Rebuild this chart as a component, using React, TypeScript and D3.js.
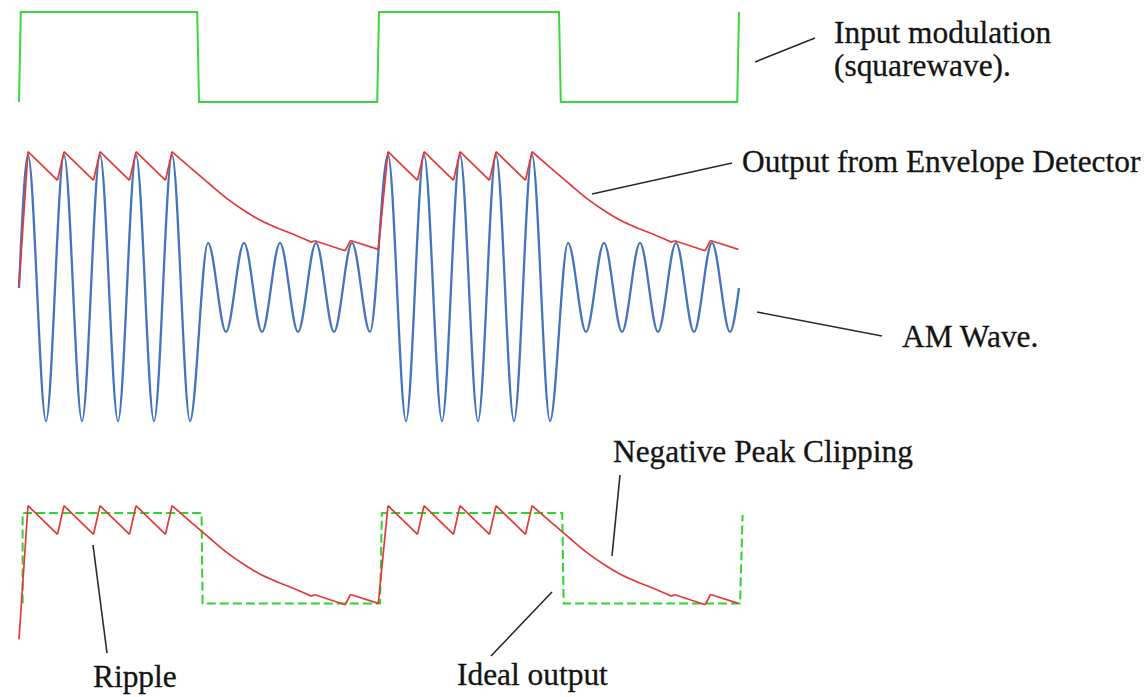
import { useEffect } from "react";
import * as d3 from "d3";

// time axis is in carrier cycles (20 cycles across the plot)

// input modulation square wave (0 = low, 1 = high)
const squareT = [0, 0.05, 4.95, 5.0, 9.95, 10.0, 15.0, 15.05, 19.95, 20.0];
const squareV = [0, 1, 1, 0, 0, 1, 1, 0, 0, 1];

// AM carrier, read at each peak / trough
const amT = [
  0, 0.25, 0.75, 1.25, 1.75, 2.25, 2.75, 3.25, 3.75, 4.25, 4.75,
  5.25, 5.75, 6.25, 6.75, 7.25, 7.75, 8.25, 8.75, 9.25, 9.75,
  10.25, 10.75, 11.25, 11.75, 12.25, 12.75, 13.25, 13.75, 14.25, 14.75,
  15.25, 15.75, 16.25, 16.75, 17.25, 17.75, 18.25, 18.75, 19.25, 19.75, 20,
];
const amV = [
  0, 1, -1, 1, -1, 1, -1, 1, -1, 1, -1,
  0.34, -0.33, 0.34, -0.33, 0.34, -0.33, 0.34, -0.33, 0.34, -0.33,
  1, -1, 1, -1, 1, -1, 1, -1, 1, -1,
  0.34, -0.33, 0.34, -0.33, 0.34, -0.33, 0.34, -0.33, 0.34, -0.33, 0,
];

// envelope detector output (capacitor voltage)
const envT = [
  0, 0.25, 1.07, 1.25, 2.07, 2.25, 3.07, 3.25, 4.07, 4.25,
  4.84, 5.3, 5.77, 6.23, 6.69, 7.16, 7.62, 8.12, 8.22, 9.06, 9.21, 9.98,
  10.25, 11.07, 11.25, 12.07, 12.25, 13.07, 13.25, 14.07, 14.25,
  14.84, 15.3, 15.77, 16.23, 16.69, 17.16, 17.62, 18.12, 18.22, 19.06, 19.21, 19.98,
];
const envV = [
  0.02, 1.025, 0.81, 1.025, 0.81, 1.025, 0.81, 1.025, 0.81, 1.025,
  0.887, 0.78, 0.674, 0.586, 0.511, 0.453, 0.404, 0.345, 0.355, 0.28, 0.357, 0.29,
  1.025, 0.81, 1.025, 0.81, 1.025, 0.81, 1.025, 0.81, 1.025,
  0.887, 0.78, 0.674, 0.586, 0.511, 0.453, 0.404, 0.345, 0.355, 0.28, 0.357, 0.29,
];

// ideal (delayed) output, dashed
const idealT = [0.1, 0.1, 5.07, 5.1, 10.03, 10.08, 15.09, 15.13, 20.03, 20.1];
const idealV = [0.29, 0.97, 0.97, 0.29, 0.29, 0.97, 0.97, 0.29, 0.29, 0.955];

const labels = {
  input: ["Input modulation", "(squarewave)."],
  envelope: "Output from Envelope Detector",
  am: "AM Wave.",
  clipping: "Negative Peak Clipping",
  ripple: "Ripple",
  ideal: "Ideal output",
};

const W = 1147;
const H = 697;
const FONT = '"Liberation Serif", "Times New Roman", Times, "DejaVu Serif", serif';
const INK = "#141414";

type P = [number, number];
const zip = (t: number[], v: number[]): P[] => t.map((d, i) => [d, v[i]]);

// split a series at its turning points so each rising / falling stretch is
// smoothed on its own and the detector's peaks stay sharp
function runs(pts: P[]): P[][] {
  const out: P[][] = [];
  let cur: P[] = [pts[0]];
  let dir = 0;
  for (let i = 1; i < pts.length; i++) {
    const d = Math.sign(pts[i][1] - pts[i - 1][1]);
    if (dir !== 0 && d !== dir) {
      out.push(cur);
      cur = [pts[i - 1]];
    }
    cur.push(pts[i]);
    dir = d;
  }
  out.push(cur);
  return out;
}

export default function App() {
  useEffect(() => {
    document.body.style.margin = "0";
  }, []);

  const x = d3.scaleLinear().domain([0, 20]).range([19, 739]);
  const ySq = d3.scaleLinear().domain([0, 1]).range([102, 12]);
  const yMid = d3.scaleLinear().domain([-1, 1]).range([421, 155]);
  const yBot = d3.scaleLinear().domain([-1, 1]).range([775, 509]);

  const lin = (y: d3.ScaleLinear<number, number>) =>
    d3.line<P>().x((d) => x(d[0])).y((d) => y(d[1]));

  const squarePath = lin(ySq)(zip(squareT, squareV)) ?? "";
  const amPath = lin(yMid).curve(d3.curveMonotoneX)(zip(amT, amV)) ?? "";
  const envPath = (y: d3.ScaleLinear<number, number>) =>
    runs(zip(envT, envV))
      .map((r) => lin(y).curve(d3.curveMonotoneX)(r) ?? "")
      .join("");
  const envMid = envPath(yMid);
  const envBot = envPath(yBot);
  const idealPath = lin(yBot)(zip(idealT, idealV)) ?? "";

  // leader lines from labels to curves
  const leaders: [number, number, number, number][] = [
    [755, 62, 815, 38],
    [592, 194, 732, 163],
    [757, 312, 882, 336],
    [620, 475, 612, 556],
    [93, 545, 107, 653],
    [552, 592, 491, 656],
  ];

  const txt = {
    fontSize: 31.4,
    fill: INK,
    stroke: INK,
    strokeWidth: 0.3,
    style: { fontFamily: FONT },
  };

  return (
    <svg width={W} height={H} style={{ display: "block", background: "#fff" }}>
      <path d={squarePath} fill="none" stroke="#3ad83a" strokeWidth={2} />
      <path d={amPath} fill="none" stroke="#4474be" strokeWidth={2.3} />
      <path d={envMid} fill="none" stroke="#e23a3a" strokeWidth={1.7} strokeLinejoin="round" />
      <path
        d={idealPath}
        fill="none"
        stroke="#2fd42f"
        strokeWidth={2}
        strokeDasharray="9 4"
      />
      <path d={envBot} fill="none" stroke="#e23a3a" strokeWidth={1.7} strokeLinejoin="round" />

      {leaders.map((l, i) => (
        <line
          key={i}
          x1={l[0]}
          y1={l[1]}
          x2={l[2]}
          y2={l[3]}
          stroke="#2a2a2a"
          strokeWidth={1.6}
        />
      ))}

      <text x={834} y={43} {...txt}>{labels.input[0]}</text>
      <text x={834} y={76} {...txt}>{labels.input[1]}</text>
      <text x={742} y={172} {...txt}>{labels.envelope}</text>
      <text x={902} y={347} {...txt}>{labels.am}</text>
      <text x={613} y={462} {...txt}>{labels.clipping}</text>
      <text x={93} y={687} {...txt}>{labels.ripple}</text>
      <text x={457} y={685} {...txt}>{labels.ideal}</text>
    </svg>
  );
}
